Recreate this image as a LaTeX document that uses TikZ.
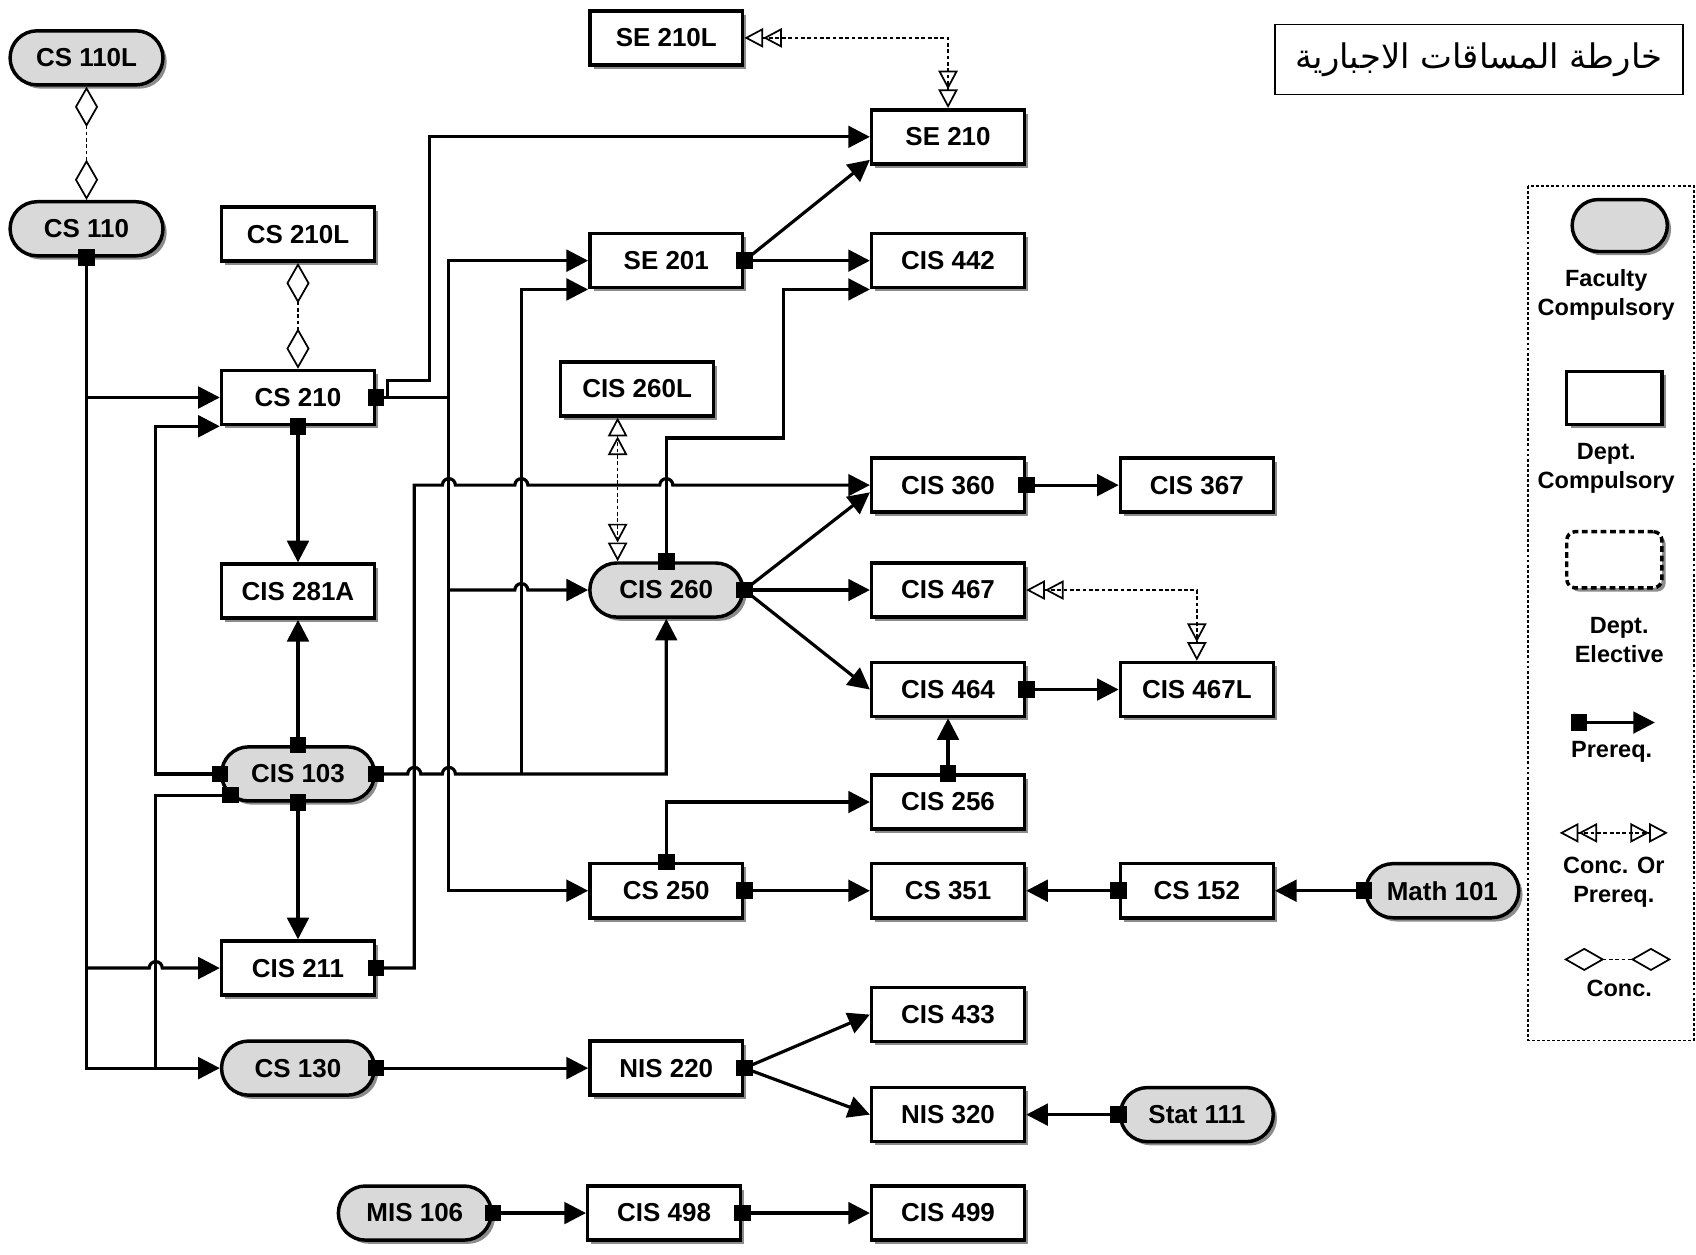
\documentclass[tikz,border=0pt]{standalone}
\usepackage{fontspec}
\setmainfont{Liberation Sans}
\newfontfamily\arabicfont[Script=Arabic]{DejaVu Sans}
\TeXXeTstate=1
\usetikzlibrary{arrows.meta,shadows,calc}
\definecolor{facgray}{HTML}{D9D9D9}
\newcommand\crsfont{\fontsize{18}{21}\selectfont\bfseries}
\newcommand\lgdfont{\fontsize{16.3}{20}\selectfont\bfseries}
\tikzset{
  course/.style={draw, line width=2.4pt, fill=white, minimum width=106pt, minimum height=37.5pt,
    inner sep=0pt, font=\crsfont,
    drop shadow={shadow xshift=2.6pt, shadow yshift=-2.6pt, fill=black!45, opacity=1}},
  fac/.style={course, fill=facgray, rounded corners=18.7pt},
  pre/.style={line width=2.2pt, {Square[length=11.5pt,width=11.5pt]}-{Triangle[length=15pt,width=15pt]}, shorten <=-5.75pt},
  preline/.style={line width=2.2pt, {Square[length=11.5pt,width=11.5pt]}-, shorten <=-5.75pt},
  arr/.style={line width=2.2pt, -{Triangle[length=15pt,width=15pt]}},
  sqr/.style={fill=black},
  conc/.style={line width=1.2pt, dash pattern=on 2.6pt off 1.8pt,
    {Diamond[open,length=28pt,width=16pt]}-{Diamond[open,length=28pt,width=16pt]}},
  concpre/.style={line width=1.2pt, dash pattern=on 2.6pt off 1.8pt,
    {Triangle[open,length=13pt,width=13.5pt,sep=0pt]Triangle[open,length=13pt,width=13.5pt,sep=0pt]}-{Triangle[open,length=13pt,width=13.5pt,sep=0pt]Triangle[open,length=13pt,width=13.5pt,sep=0pt]}},
  lbl/.style={font=\lgdfont, align=center, inner sep=0pt}
}
\begin{document}
\begin{tikzpicture}[x=0.75pt,y=-0.75pt]
\useasboundingbox (0,0) rectangle (1568,1160);

% courses
\node[fac]    (cs110l)  at (80,53.5)     {CS 110L};
\node[fac]    (cs110)   at (80,211.5)    {CS 110};
\node[course] (se210l)  at (616,35)      {SE 210L};
\node[course] (se210)   at (876.5,126.5) {SE 210};
\node[course] (cs210l)  at (275.5,216.5) {CS 210L};
\node[course] (se201)   at (616,241)     {SE 201};
\node[course] (cis442)  at (876.5,241)   {CIS 442};
\node[course] (cs210)   at (275.5,367.5) {CS 210};
\node[course] (cis260l) at (589,359.5)   {CIS 260L};
\node[course] (cis360)  at (876.5,448.5) {CIS 360};
\node[course] (cis367)  at (1106.5,448.5) {CIS 367};
\node[course] (cis281a) at (275.5,546.5) {CIS 281A};
\node[fac]    (cis260)  at (616,545.5)   {CIS 260};
\node[course] (cis467)  at (876.5,545.5) {CIS 467};
\node[course] (cis464)  at (876.5,637.5) {CIS 464};
\node[course] (cis467l) at (1106.5,637.5) {CIS 467L};
\node[fac]    (cis103)  at (275.5,715.5) {CIS 103};
\node[course] (cis256)  at (876.5,741.5) {CIS 256};
\node[course] (cs250)   at (616,823.5)   {CS 250};
\node[course] (cs351)   at (876.5,823.5) {CS 351};
\node[course] (cs152)   at (1106.5,823.5) {CS 152};
\node[fac]    (math101) at (1333.5,823.5) {Math 101};
\node[course] (cis211)  at (275.5,895)   {CIS 211};
\node[fac]    (cs130)   at (275.5,987.5) {CS 130};
\node[course] (nis220)  at (616,987.5)   {NIS 220};
\node[course] (cis433)  at (876.5,938)   {CIS 433};
\node[course] (nis320)  at (876.5,1030.5) {NIS 320};
\node[fac]    (stat111) at (1106.5,1030.5) {Stat 111};
\node[fac]    (mis106)  at (383.5,1121.5) {MIS 106};
\node[course] (cis498)  at (614,1121.5)  {CIS 498};
\node[course] (cis499)  at (876.5,1121.5) {CIS 499};

% title
\node[draw, line width=1.1pt, minimum width=283pt, minimum height=48.5pt, inner sep=0pt] (title) at (1367.5,55)
  {\arabicfont\fontsize{23.5}{28}\selectfont\beginR خارطة المساقات الاجبارية\endR};

% concurrent / conc-or-prereq
\draw[conc] (cs110l.south) -- (cs110.north);
\draw[conc] (cs210l.south) -- (cs210.north);
\draw[concpre] (se210l.east) -| (se210.north);
\draw[concpre] ([xshift=-13.5pt]cis260l.south) -- ([xshift=-33.75pt]cis260.north);
\draw[concpre] (cis467.east) -| (cis467l.north);

% prerequisites
\draw[pre] (cs110.south) |- (cs130.west);
\draw[arr] (cs110.south |- cs210.west) -- (cs210.west);
\draw[arr] (cs110.south |- cis211.west) -- (138,895) arc[start angle=180,end angle=0,radius=4.5pt] -- (cis211.west);
\draw[pre] (cis103.west) -- (144,715.5) |- (cs210.south west);
\draw[preline] ([shift={(10,-7)}]cis103.south west) -| (144,987.5);
\draw[pre] (cs210.south) -- (cis281a.north);
\draw[pre] (cis103.north) -- (cis281a.south);
\draw[pre] (cis103.south) -- (cis211.north);
\draw[pre] (cs210.east) -- (358,367.5) -- (358,352) -- (397,352) |- (se210.west);
\draw[pre] (cs210.east) -- (415,367.5) |- (se201.west);
\draw[arr] (415,367.5) |- (cs250.west);
\draw[arr] (415,545.5) -- (476,545.5) arc[start angle=180,end angle=0,radius=4.5pt] -- (cis260.west);
\draw[pre] (cis103.east) -- (377,715.5) arc[start angle=180,end angle=0,radius=4.5pt]
  -- (409,715.5) arc[start angle=180,end angle=0,radius=4.5pt] -| (cis260.south);
\draw[arr] (482,715.5) |- (se201.south west);
\draw[pre] (cis211.east) -- (383,895) -- (383,448.5)
  -- (409,448.5) arc[start angle=180,end angle=0,radius=4.5pt]
  -- (476,448.5) arc[start angle=180,end angle=0,radius=4.5pt]
  -- (610,448.5) arc[start angle=180,end angle=0,radius=4.5pt] -- (cis360.west);
\draw[pre] (cis260.north) -- (616,405) -- (724,405) |- (cis442.south west);
\draw[arr] (se201.east) -- ([yshift=4pt]se210.south west);
\draw[pre] (se201.east) -- (cis442.west);
\draw[arr] (cis260.east) -- ([yshift=-5pt]cis360.west);
\draw[pre] (cis260.east) -- (cis467.west);
\draw[arr] (cis260.east) -- (cis464.west);
\draw[pre] (cis360.east) -- (cis367.west);
\draw[pre] (cis464.east) -- (cis467l.west);
\draw[pre] (cis256.north) -- (cis464.south);
\draw[pre] (cs250.north) |- (cis256.west);
\draw[pre] (cs250.east) -- (cs351.west);
\draw[pre] (cs152.west) -- (cs351.east);
\draw[pre] (math101.west) -- (cs152.east);
\draw[pre] (cs130.east) -- (nis220.west);
\draw[arr] (nis220.east) -- (cis433.west);
\draw[arr] (nis220.east) -- (nis320.west);
\fill[sqr] ([shift={(-5.75pt,-5.75pt)}]nis220.east) rectangle ++(11.5pt,11.5pt);
\draw[pre] (stat111.west) -- (nis320.east);
\draw[pre] (mis106.east) -- (cis498.west);
\draw[pre] (cis498.east) -- (cis499.west);

% legend
\draw[line width=1.2pt, dash pattern=on 2pt off 1.5pt] (1413,172) rectangle (1566,962);
\node[fac, minimum width=66pt, minimum height=36pt, rounded corners=18pt] (lgfac) at (1497.5,208.5) {};
\node[lbl] (lgfact) at (1485,272.5) {Faculty\\Compulsory};
\node[course, minimum width=66pt, minimum height=37pt] (lgdep) at (1492.5,368) {};
\node[lbl] (lgdept) at (1485,433) {Dept.\\Compulsory};
\node[course, dash pattern=on 4pt off 2.5pt, rounded corners=6pt, minimum width=66pt, minimum height=39pt] (lgel) at (1492.5,517.5) {};
\node[lbl] (lgelt) at (1497,592) {Dept.\\Elective};
\draw[pre] (1460,668) -- (1530,668);
\node[lbl] (lgpre) at (1490,695) {Prereq.};
\draw[concpre] (1442,770) -- (1542,770);
\node[lbl] (lgcp) at (1492,815.5) {Conc. Or\\Prereq.};
\draw[conc] (1446,887) -- (1545,887);
\node[lbl] (lgc) at (1497,914) {Conc.};
\end{tikzpicture}
\end{document}
